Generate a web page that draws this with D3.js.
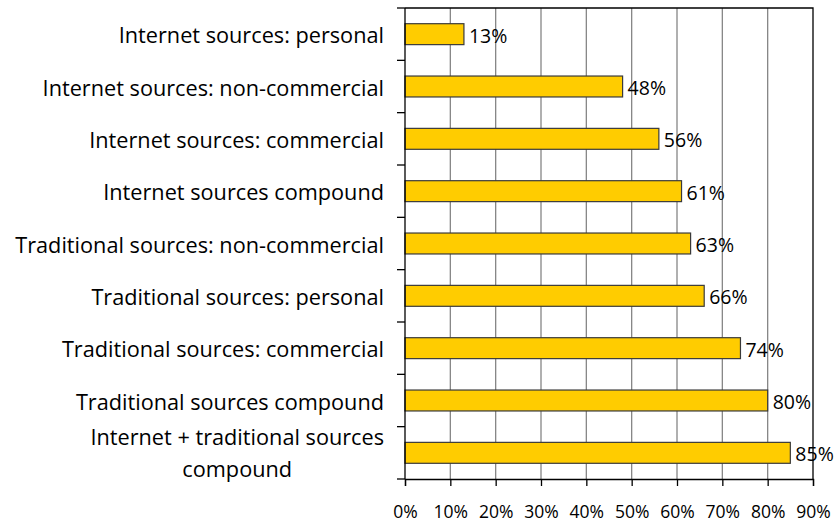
<!DOCTYPE html>
<html>
<head>
<meta charset="utf-8">
<script src="https://cdn.jsdelivr.net/npm/d3@7"></script>
<style>
  html, body { margin: 0; padding: 0; background: #fff; }
  svg text { font-family: "Open Sans", Lato, "Noto Sans", sans-serif; fill: #000; }
</style>
</head>
<body>
<svg id="chart" width="834" height="523"></svg>
<script>
// Share of respondents by information source
const categories = [
  "Internet sources: personal",
  "Internet sources: non-commercial",
  "Internet sources: commercial",
  "Internet sources compound",
  "Traditional sources: non-commercial",
  "Traditional sources: personal",
  "Traditional sources: commercial",
  "Traditional sources compound",
  "Internet + traditional sources\ncompound"
];
const values = [0.13, 0.48, 0.56, 0.61, 0.63, 0.66, 0.74, 0.80, 0.85];
const xTicks = [0, 0.1, 0.2, 0.3, 0.4, 0.5, 0.6, 0.7, 0.8, 0.9];

const svg = d3.select("#chart");
const plotLeft = 405, plotRight = 813, plotTop = 8, plotBottom = 479;

const x = d3.scaleLinear().domain([0, 0.9]).range([plotLeft, plotRight]);
const y = d3.scaleBand().domain(categories).range([plotTop, plotBottom])
  .paddingInner(0.6).paddingOuter(0.3);

const pct = d3.format(".0%");

// vertical gridlines
svg.append("g").selectAll("line")
  .data(xTicks.filter(t => t > 0 && t < 0.9))
  .join("line")
  .attr("x1", d => x(d)).attr("x2", d => x(d))
  .attr("y1", plotTop).attr("y2", plotBottom)
  .attr("stroke", "#868686").attr("stroke-width", 1.3);

// plot frame (top and right)
svg.append("path")
  .attr("d", `M${plotLeft},${plotTop}H${plotRight}V${plotBottom}`)
  .attr("fill", "none").attr("stroke", "#000").attr("stroke-width", 1.3);

// bars
svg.append("g").selectAll("rect")
  .data(values)
  .join("rect")
  .attr("x", x(0))
  .attr("y", (d, i) => y(categories[i]))
  .attr("width", d => x(d) - x(0))
  .attr("height", y.bandwidth())
  .attr("fill", "#FFCC00")
  .attr("stroke", "#3a3a3a").attr("stroke-width", 1.2);

// value labels
svg.append("g").selectAll("text")
  .data(values)
  .join("text")
  .attr("x", d => x(d) + 5)
  .attr("y", (d, i) => y(categories[i]) + y.bandwidth() / 2 + 8.5)
  .attr("font-size", 19.5)
  .text(d => pct(d));

// x axis
const xAxis = d3.axisBottom(x).tickValues(xTicks).tickFormat(pct).tickSize(7).tickPadding(20);
const gx = svg.append("g").attr("transform", `translate(0,${plotBottom})`).call(xAxis);
gx.select(".domain").attr("stroke", "#000").attr("stroke-width", 1.3);
gx.selectAll(".tick line").attr("stroke", "#000").attr("stroke-width", 1.3);
gx.selectAll(".tick text").attr("font-size", 17.5).attr("font-family", null);

// y axis line and boundary ticks
svg.append("line")
  .attr("x1", plotLeft).attr("x2", plotLeft).attr("y1", plotTop).attr("y2", plotBottom)
  .attr("stroke", "#000").attr("stroke-width", 1.3);
const bounds = categories.map(c => y(c) - y.step() * y.paddingInner() / 2);
bounds.push(plotBottom);
svg.append("g").selectAll("line")
  .data(bounds)
  .join("line")
  .attr("x1", plotLeft - 8).attr("x2", plotLeft)
  .attr("y1", d => d).attr("y2", d => d)
  .attr("stroke", "#000").attr("stroke-width", 1.3);

// category labels (right-aligned block, lines centred within it)
const labelRight = 384;
categories.forEach((c, i) => {
  const lines = c.split("\n");
  const cy = y(c) + y.bandwidth() / 2;
  const t = svg.append("text").attr("font-size", 21.7);
  if (lines.length === 1) {
    t.attr("x", labelRight).attr("y", cy + 9).attr("text-anchor", "end").text(c);
  } else {
    const lh = 31.5;
    const spans = t.selectAll("tspan").data(lines).join("tspan")
      .attr("y", (d, k) => cy + 8 + (k - (lines.length - 1) / 2) * lh)
      .text(d => d);
    const w = d3.max(spans.nodes(), n => n.getComputedTextLength());
    spans.attr("x", labelRight - w / 2).attr("text-anchor", "middle");
  }
});
</script>
</body>
</html>
